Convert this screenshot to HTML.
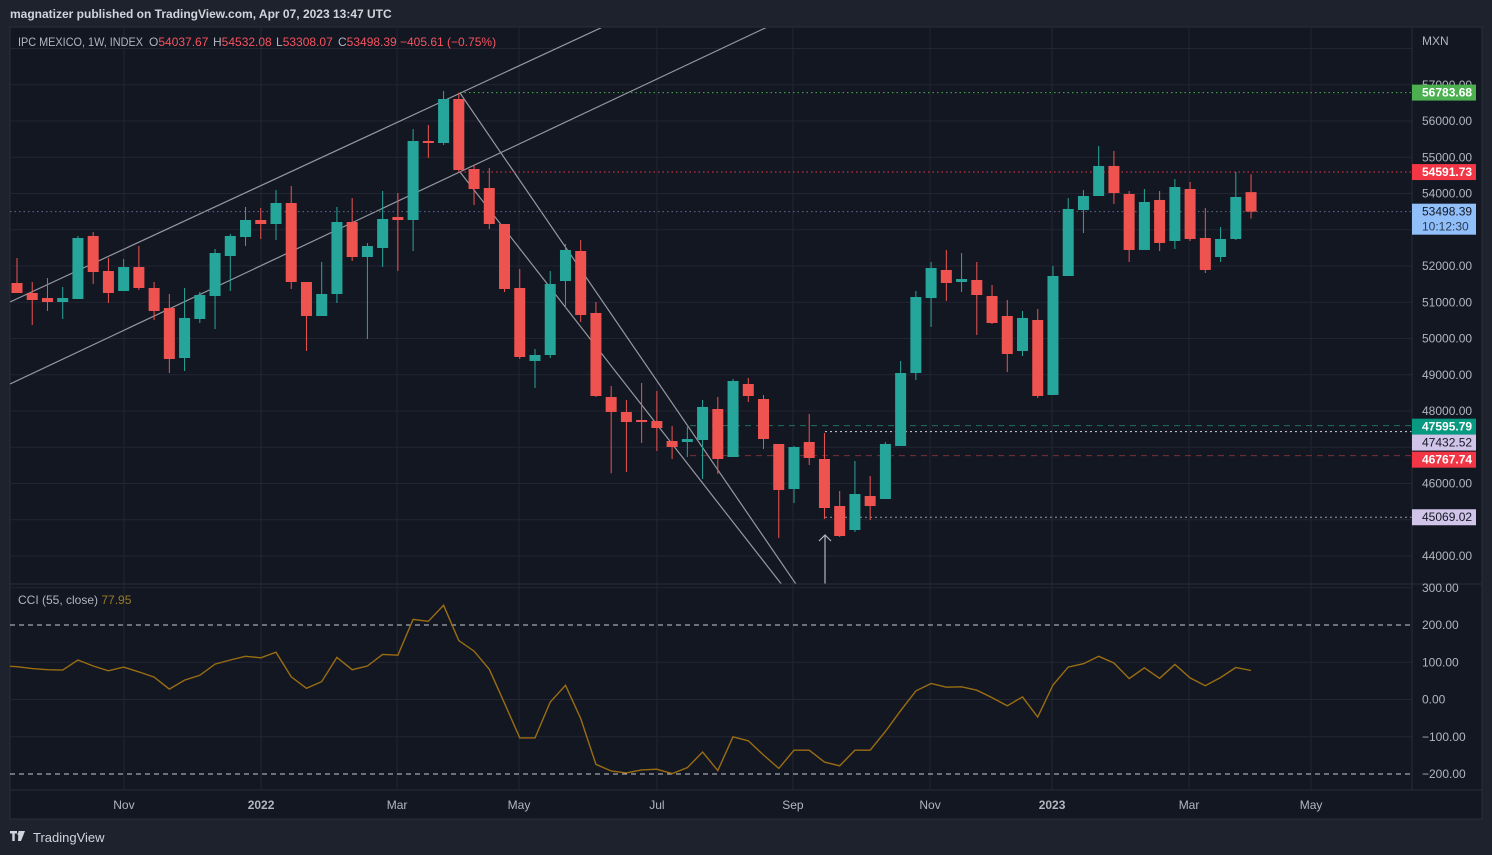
<!DOCTYPE html>
<html><head><meta charset="utf-8">
<style>
html,body{margin:0;padding:0;background:#1e222d;width:1492px;height:855px;overflow:hidden;font-family:"Liberation Sans",sans-serif;}
svg{position:absolute;left:0;top:0;}
</style></head>
<body>
<svg id="chart" width="1492" height="855" xmlns="http://www.w3.org/2000/svg">
<rect x="0" y="0" width="1492" height="855" fill="#1e222d"/>
<text x="10" y="18" fill="#d1d4dc" font-size="12" font-weight="bold">magnatizer published on TradingView.com, Apr 07, 2023 13:47 UTC</text>
<rect x="10" y="27" width="1472" height="792" fill="#131722" stroke="#2a2e39" stroke-width="1"/>
<g id="grid"></g>
<g id="drawings"></g>
<g id="candles"></g>
<g id="cci"></g>
<line x1="10" y1="584" x2="1482" y2="584" stroke="#2a2e39" stroke-width="1"/>
<line x1="1412" y1="27" x2="1412" y2="790" stroke="#2a2e39"/>
<line x1="10" y1="790" x2="1482" y2="790" stroke="#2a2e39"/>
<g id="axes"></g>
<g font-size="12">
<text x="18" y="46" fill="#b2b5be" textLength="125" lengthAdjust="spacingAndGlyphs">IPC MEXICO, 1W, INDEX</text>
<text y="46" fill="#b2b5be"><tspan x="149">O</tspan><tspan fill="#f7525f">54037.67</tspan><tspan x="213">H</tspan><tspan fill="#f7525f">54532.08</tspan><tspan x="276">L</tspan><tspan fill="#f7525f">53308.07</tspan><tspan x="338">C</tspan><tspan fill="#f7525f">53498.39</tspan><tspan x="400" fill="#f7525f">−405.61 (−0.75%)</tspan></text>
<text x="18" y="604" fill="#b2b5be">CCI (55, close) <tspan fill="#9a7a26">77.95</tspan></text>
</g>
<g>
<path d="M10 831h7v2.5h-2.3v7.5h-2.4v-7.5h-2.3z M18.5 831h6.5l-4 10h-3z" fill="#d1d4dc"/>
<circle cx="19" cy="834" r="1.5" fill="#d1d4dc"/>
<text x="33" y="842" fill="#d1d4dc" font-size="13">TradingView</text>
</g>
</svg>
<script>
const opens=[51531,51255,51117,51007,51090,52828,51862,51310,51972,51393,50841,49462,50538,51173,52276,52800,53269,53159,53738,51559,50621,51228,53214,52248,52497,53352,53269,55448,55393,56607,54676,54152,53159,51393,49380,49545,51586,52414,50704,48386,47973,47752,47724,47172,47145,47200,48055,46731,48745,48331,47090,45848,47145,46676,45379,44717,45655,45572,47035,49048,51117,51890,51559,51614,51173,50621,49655,50511,48442,51724,53545,53931,54759,53986,52442,53821,52690,54124,52773,52248,52745,54037.67];
const highs=[52221,51559,51669,51421,52828,52938,52221,52193,52552,51559,51228,51393,51283,52469,52883,53628,53600,54097,54207,51559,52110,53628,53876,52635,54069,54014,55779,55890,56828,56783.68,54786,54704,53159,51917,49711,51862,52607,52717,51007,48690,48304,48773,48552,47586,47559,48304,48386,48883,48911,48442,47090,47035,47918,47393,45793,46621,46207,47145,49379,51310,52110,52442,52359,52110,51476,51062,50759,50814,52000,53876,54097,55310,55173,54069,54124,54069,54400,54317,53600,53076,54593,54532.08];
const lows=[51283,50373,50759,50538,51090,51504,50980,51310,51338,50510,49048,49104,50428,50262,51310,52552,52745,52717,51366,49655,50621,50980,52138,49986,51972,51862,52414,54979,55338,54593,53683,53021,51283,49434,48635,49462,50841,50456,48386,46283,46317,47117,46897,46676,46731,46125,46262,46731,48248,46952,44497,45462,46510,45021,44524,44662,44993,45572,47035,48855,50317,51035,51283,50097,50400,49076,49517,48359,48442,51724,52910,53931,53711,52110,52442,52414,52469,52690,51807,52110,52717,53308.07];
const closes=[51255,51062,51007,51117,52773,51834,51255,51972,51393,50759,49434,50566,51200,52359,52828,53269,53159,53738,51559,50621,51228,53214,52248,52552,53297,53269,55448,55393,56607,54648,54124,53159,51366,49490,49545,51504,52442,50648,48414,47973,47697,47697,47531,47007,47227,48111,46676,48828,48414,47227,45821,47007,46704,45324,44552,45710,45379,47090,49048,51145,51945,51531,51641,51200,50428,49573,50566,48414,51724,53573,53931,54759,54014,52442,53766,52635,54179,52745,51890,52745,53904,53498.39];
const cciValues=[88,83,80,79,106,90,77,87,74,60,28,52,65,95,106,116,112,127,61,30,48,113,80,90,121,119,215,210,253,158,130,81,-10,-103,-103,-7,38,-51,-174,-192,-197,-189,-187,-199,-183,-141,-191,-100,-111,-149,-185,-136,-136,-168,-178,-136,-136,-86,-30,23,43,33,34,25,5,-17,7,-47,39,87,96,116,98,56,85,57,94,58,37,59,86,77.95];
const priceTicks=[44000,45000,46000,47000,48000,49000,50000,51000,52000,53000,54000,55000,56000,57000,58000];
const cciTicks=[-200,-100,0,100,200,300];
const timeLabels=["Nov","2022","Mar","May","Jul","Sep","Nov","2023","Mar","May"];
const timeIdx=[7.02,16.02,24.95,32.95,42.0,50.93,59.93,67.94,76.93,84.94];
const markerPrices=[56783.68,54591.73,53498.39,47595.79,47432.52,46767.74,45069.02];

const NS="http://www.w3.org/2000/svg";
const X=i=>17+i*15.235;
const Y=p=>121+(56000-p)*0.03625;
const CY=v=>699.5-v*0.3725;
function mk(tag,attrs,parent,txt){const e=document.createElementNS(NS,tag);for(const k in attrs)e.setAttribute(k,attrs[k]);if(txt!==undefined)e.textContent=txt;parent.appendChild(e);return e;}
const grid=document.getElementById('grid'),dr=document.getElementById('drawings'),cg=document.getElementById('candles'),cci=document.getElementById('cci'),ax=document.getElementById('axes');
const GC="#232632";
priceTicks.forEach(p=>{const y=Y(p);if(y<28||y>584)return;const l=mk('line',{x1:10,x2:1412,y1:y,y2:y,stroke:GC},grid);

});
cciTicks.forEach(v=>{const y=CY(v);if(y<586)return;if(Math.abs(v)===200)return;const l=mk('line',{x1:10,x2:1412,y1:y,y2:y,stroke:GC},grid);

});
timeIdx.forEach(t=>{const x=X(t);const l=mk('line',{x1:x,x2:x,y1:28,y2:790,stroke:GC},grid);

});
const clipDefs=mk('defs',{},document.getElementById('chart'));
const cp=mk('clipPath',{id:'mainclip'},clipDefs);mk('rect',{x:10,y:28,width:1402,height:556},cp);
dr.setAttribute('clip-path','url(#mainclip)');
function tl(x1,y1,x2,y2,name){const l=mk('line',{x1,y1,x2,y2,stroke:'#9598a1','stroke-width':1.2},dr);

}
tl(10,302,620,19,'upper-channel-line');
tl(10,384,780,21,'lower-channel-line');
tl(460,93,800,590,'downtrend-line-outer');
tl(460,172,786,590,'downtrend-line-inner');
function hl(x1,p,col,dash,name){const y=Y(p);const l=mk('line',{x1,x2:1412,y1:y,y2:y,stroke:col,'stroke-dasharray':dash},dr);

}
hl(460,markerPrices[0],'#4caf50','1.5 3','high-level-line');
hl(460,markerPrices[1],'#f23645','1.5 3','resistance-level-line');
hl(10,markerPrices[2],'#5d6b8a','1.5 3','last-price-line');
hl(690,markerPrices[3],'#1f6f5f','6 5','green-level-line');
hl(825,markerPrices[4],'#d1d4dc','2 3','lavender-level-line');
hl(690,markerPrices[5],'#7a3036','6 5','red-level-line');
hl(825,markerPrices[6],'#9598a1','2 3','low-level-line');
const ar=mk('path',{d:'M825 584V535M819 541L825 535L831 541',stroke:'#b2b5be',fill:'none','stroke-width':1.2},dr);


opens.forEach((o,i)=>{const c=closes[i],h=highs[i],l=lows[i];const up=c>=o;const col=up?'#26a69a':'#ef5350';const x=X(i);
const w=mk('line',{x1:x,x2:x,y1:Y(h),y2:Y(l),stroke:col,'stroke-width':1},cg);


const top=Y(Math.max(o,c)),bh=Math.max(1.5,Math.abs(Y(o)-Y(c)));
const b=mk('rect',{x:x-5.5,y:top,width:11,height:bh,fill:col},cg);

});
[200,-200].forEach(v=>{const y=CY(v);const l=mk('line',{x1:10,x2:1412,y1:y,y2:y,stroke:'#c8cad0','stroke-dasharray':'5 4'},cci);

});
const cp2=mk('clipPath',{id:'cciclip'},clipDefs);mk('rect',{x:10,y:585,width:1402,height:205},cp2);
const pts=cciValues.map((v,i)=>X(i).toFixed(1)+','+CY(v).toFixed(1)).join(' ');
const pl=mk('polyline',{points:'10,'+CY(89).toFixed(1)+' '+pts,fill:'none',stroke:'#9a6d12','stroke-width':1.4,'clip-path':'url(#cciclip)'},cci);


const AX={fill:'#b2b5be','font-size':12};
const m=mk('text',Object.assign({x:1422,y:45},AX),ax,'MXN');


priceTicks.forEach(p=>{const y=Y(p);if(y<60||y>575||p===47000)return;const t=mk('text',Object.assign({x:1422,y:y+4},AX),ax,p.toFixed(2));

});
cciTicks.forEach(v=>{const y=CY(v);const s=(v<0?'\u2212'+Math.abs(v).toFixed(2):v.toFixed(2));const t=mk('text',Object.assign({x:1422,y:y+4},AX),ax,s);

});
timeLabels.forEach((s,i)=>{const bold=/^\d/.test(s);const t=mk('text',{x:X(timeIdx[i]),y:809,fill:'#b2b5be','font-size':12,'text-anchor':'middle','font-weight':bold?'bold':'normal'},ax,s);

});
const boxCols=[['#4caf50','#fff'],['#f23645','#fff'],['#90bff9','#131722'],['#089981','#fff'],['#d1c4e9','#131722'],['#f23645','#fff'],['#d1c4e9','#131722']];
const boxOffset=[0,0,0,1,11,4,0];
markerPrices.forEach((p,i)=>{const y=Y(p)+boxOffset[i];const [bg,fg]=boxCols[i];const h=i===2?31:16;const top=y-8;
const r=mk('rect',{x:1412,y:top,width:64,height:h,fill:bg},ax);


const t=mk('text',{x:1422,y:top+12,fill:fg,'font-size':12,'font-weight':fg==='#fff'?'bold':'normal'},ax,p.toFixed(2));


if(i===2){const t2=mk('text',{x:1422,y:top+27,fill:'#2a3a55','font-size':12},ax,'10:12:30');

}});
</script>
</body></html>
